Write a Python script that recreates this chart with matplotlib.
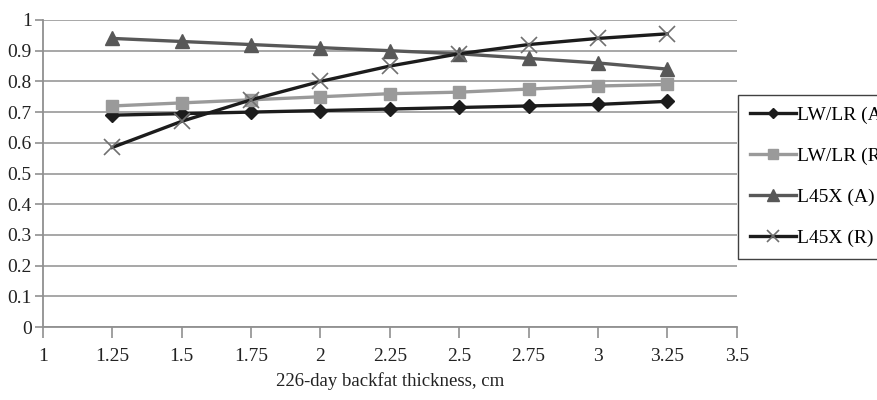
import matplotlib.pyplot as plt

plt.rcParams['font.family'] = ['Liberation Serif', 'DejaVu Serif']

x = [1.25, 1.5, 1.75, 2, 2.25, 2.5, 2.75, 3, 3.25]
lwlr_a = [0.69, 0.695, 0.70, 0.705, 0.71, 0.715, 0.72, 0.725, 0.735]
lwlr_r = [0.72, 0.73, 0.74, 0.75, 0.76, 0.765, 0.775, 0.785, 0.79]
l45x_a = [0.94, 0.93, 0.92, 0.91, 0.90, 0.89, 0.875, 0.86, 0.84]
l45x_r = [0.585, 0.67, 0.74, 0.80, 0.85, 0.89, 0.92, 0.94, 0.955]
labels = ["LW/LR (A)", "LW/LR (R)", "L45X (A)", "L45X (R)"]

fig = plt.figure(figsize=(8.77, 4), dpi=100)
ax = fig.add_axes([0.049, 0.1825, 0.791, 0.7675])

ax.plot(x, lwlr_a, color="#1c1c1c", lw=2.4, marker="D", ms=7, label=labels[0])
ax.plot(x, lwlr_r, color="#9a9a9a", lw=2.4, marker="s", ms=9, label=labels[1])
ax.plot(x, l45x_a, color="#585858", lw=2.4, marker="^", ms=10, label=labels[2])
ax.plot(x, l45x_r, color="#1c1c1c", lw=2.4, marker="x", ms=11, mew=1.2,
        mec="#707070", label=labels[3])

ax.set_xlim(1, 3.5)
ax.set_ylim(0, 1)
ax.set_xticks([1, 1.25, 1.5, 1.75, 2, 2.25, 2.5, 2.75, 3, 3.25, 3.5])
ax.set_xticklabels(["1", "1.25", "1.5", "1.75", "2", "2.25", "2.5", "2.75", "3", "3.25", "3.5"])
ax.set_yticks([i / 10 for i in range(11)])
ax.set_yticklabels(["0", "0.1", "0.2", "0.3", "0.4", "0.5", "0.6", "0.7", "0.8", "0.9", "1"])
ax.yaxis.grid(True, color="#a0a0a0", lw=1.3)
ax.set_axisbelow(True)
for s in ["top", "right"]:
    ax.spines[s].set_visible(False)
for s in ["left", "bottom"]:
    ax.spines[s].set_color("#909090")
    ax.spines[s].set_linewidth(1.3)
ax.tick_params(axis="both", colors="#909090", labelcolor="#222222", labelsize=14,
               direction="out", length=6, width=1.2)
ax.tick_params(axis="x", length=8, pad=7)
ax.tick_params(axis="y", pad=2)
ax.set_xlabel("226-day backfat thickness, cm", fontsize=13.5, color="#222222", labelpad=5)

# legend sits at the right edge and gets cut off, like the original
leg = fig.legend(loc="upper left", bbox_to_anchor=(0.8415, 0.763), fontsize=14,
                 frameon=True, fancybox=False, edgecolor="#111111", handlelength=2.4,
                 handletextpad=0.05, labelspacing=1.2, borderpad=0.6, borderaxespad=0,
                 markerscale=0.8)
leg.get_frame().set_linewidth(1.0)

fig.savefig("out.png", dpi=100)
